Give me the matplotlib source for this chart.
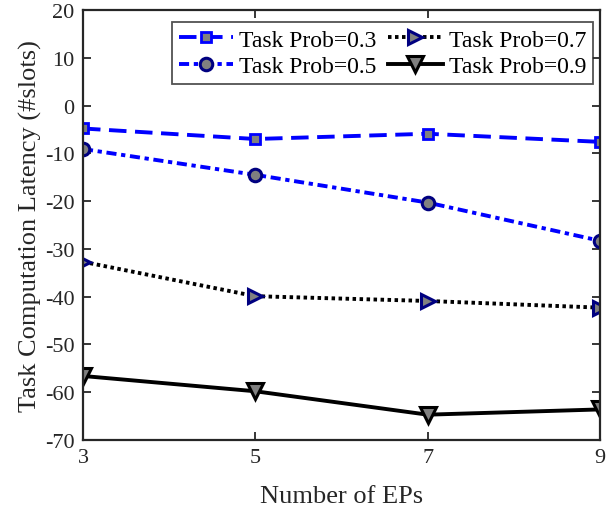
import matplotlib
matplotlib.use('Agg')
from matplotlib import pyplot as plt
import numpy as np

plt.rcParams['font.family'] = ['Liberation Serif', 'DejaVu Serif']
plt.rcParams['axes.unicode_minus'] = False

num_eps = [3, 5, 7, 9]
lat_p03 = [-4.8, -7.0, -5.9, -7.6]
lat_p05 = [-9.1, -14.5, -20.3, -28.3]
lat_p07 = [-32.7, -39.9, -40.9, -42.3]
lat_p09 = [-56.6, -59.8, -64.7, -63.6]
labels = ['Task Prob=0.3', 'Task Prob=0.5', 'Task Prob=0.7', 'Task Prob=0.9']

fig = plt.figure(figsize=(6.16, 5.10), dpi=100)
ax = fig.add_axes([83 / 616, 1 - 441 / 510, (600 - 83) / 616, (441 - 11) / 510])

gray = '#808080'
navy = '#000080'
lw = 2.8
ax.plot(num_eps, lat_p03, color='#0000ff', ls=(0, (4.5, 2.2)), lw=lw, marker='s', ms=7.5,
        mfc=gray, mec='#0000ff', mew=2, label=labels[0])
ax.plot(num_eps, lat_p05, color='#0000ff', ls=(0, (2.6, 1.2, 1.1, 1.2)), lw=lw, marker='o', ms=9,
        mfc=gray, mec=navy, mew=2.2, label=labels[1])
ax.plot(num_eps, lat_p07, color='black', ls=(0, (0.9, 0.9)), lw=lw, marker='>', ms=10.5,
        mfc=gray, mec=navy, mew=2.2, label=labels[2])
ax.plot(num_eps, lat_p09, color='black', ls='-', lw=lw, marker='v', ms=11,
        mfc=gray, mec='black', mew=2.2, label=labels[3])

ax.set_xlim(3, 9)
ax.set_ylim(-70, 20)
ax.set_xticks(num_eps)
ax.set_yticks(np.arange(-70, 21, 10))
ax.tick_params(direction='in', length=6, width=1.3, labelsize=16, colors='#262626',
               top=True, right=True, labelcolor='#262626', pad=6)
for s in ax.spines.values():
    s.set_linewidth(1.6)
    s.set_color('#262626')

ax.set_xlabel('Number of EPs', fontsize=19, color='#262626', labelpad=13)
ax.set_ylabel('Task Computation Latency (#slots)', fontsize=19, color='#262626', labelpad=2)

leg = ax.legend(ncol=2, loc='upper right', bbox_to_anchor=(593 / 616, 1 - 23 / 510),
                bbox_transform=fig.transFigure, fontsize=17, frameon=True, fancybox=False,
                edgecolor='#262626', handlelength=2.3, handletextpad=0.25,
                columnspacing=0.5, borderpad=0.3, labelspacing=0.22,
                borderaxespad=0)
leg.get_frame().set_linewidth(1.3)

fig.savefig('out.png', dpi=100)
